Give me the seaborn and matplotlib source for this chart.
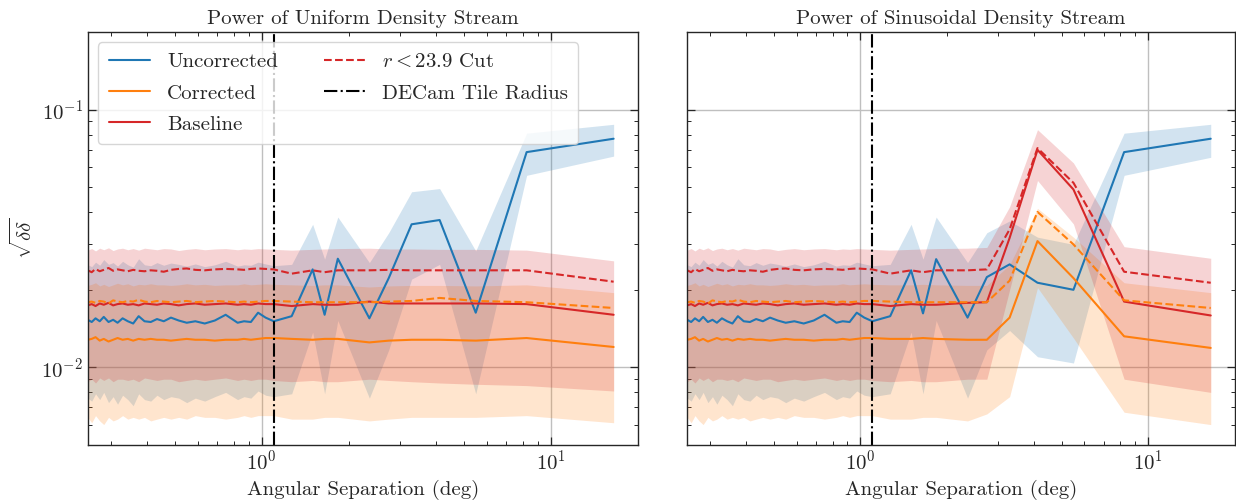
import numpy as np
import matplotlib
matplotlib.use("Agg")
import matplotlib.pyplot as plt
import seaborn as sns

# angular separations (deg): dense small-scale part + sparse large-scale part
x_dense = [0.250, 0.258, 0.266, 0.275, 0.284, 0.295, 0.306, 0.317, 0.330, 0.344,
           0.359, 0.375, 0.393, 0.413, 0.434, 0.458, 0.485, 0.516, 0.550, 0.589,
           0.635, 0.688, 0.750, 0.825, 0.868, 0.917, 0.971, 1.031]
x_tail = [1.100, 1.269, 1.500, 1.650, 1.833, 2.357, 2.750, 3.300, 4.125, 5.500, 8.250, 16.50]

# small-scale values (same for both streams)
unc_dense = [0.0153, 0.0150, 0.0155, 0.0151, 0.0157, 0.0150, 0.0153, 0.0149, 0.0155, 0.0151,
             0.0148, 0.0158, 0.0151, 0.0150, 0.0154, 0.0151, 0.0156, 0.0152, 0.0149, 0.0151,
             0.0148, 0.0152, 0.0160, 0.0149, 0.0151, 0.0150, 0.0163, 0.0156]
unc_hi_dense = [0.0250, 0.0246, 0.0256, 0.0249, 0.0262, 0.0251, 0.0255, 0.0247, 0.0258, 0.0250,
                0.0245, 0.0264, 0.0250, 0.0248, 0.0255, 0.0249, 0.0254, 0.0251, 0.0247, 0.0252,
                0.0246, 0.0250, 0.0258, 0.0247, 0.0250, 0.0249, 0.0256, 0.0252]
unc_lo_dense = [0.0076, 0.0074, 0.0079, 0.0075, 0.0080, 0.0073, 0.0077, 0.0072, 0.0078, 0.0075,
                0.0071, 0.0079, 0.0075, 0.0074, 0.0078, 0.0075, 0.0077, 0.0076, 0.0073, 0.0076,
                0.0074, 0.0077, 0.0080, 0.0075, 0.0077, 0.0076, 0.0081, 0.0078]
base_dense = [0.0174, 0.0176, 0.0173, 0.0177, 0.0175, 0.0178, 0.0174, 0.0176, 0.0177, 0.0175,
              0.0176, 0.0174, 0.0177, 0.0176, 0.0175, 0.0177, 0.0176, 0.0174, 0.0176, 0.0177,
              0.0175, 0.0176, 0.0177, 0.0175, 0.0176, 0.0175, 0.0177, 0.0176]
base_hi_dense = [0.0285, 0.0289, 0.0283, 0.0290, 0.0286, 0.0291, 0.0284, 0.0288, 0.0290, 0.0286,
                 0.0289, 0.0285, 0.0290, 0.0288, 0.0286, 0.0289, 0.0288, 0.0284, 0.0287, 0.0289,
                 0.0286, 0.0288, 0.0289, 0.0286, 0.0288, 0.0287, 0.0289, 0.0288]
base_lo_dense = [0.0088, 0.0090, 0.0087, 0.0091, 0.0089, 0.0091, 0.0088, 0.0090, 0.0090, 0.0089,
                 0.0090, 0.0088, 0.0091, 0.0090, 0.0089, 0.0090, 0.0090, 0.0088, 0.0089, 0.0090,
                 0.0089, 0.0090, 0.0091, 0.0089, 0.0090, 0.0089, 0.0090, 0.0090]
base_cut_dense = [0.0238, 0.0234, 0.0241, 0.0236, 0.0239, 0.0243, 0.0237, 0.0240, 0.0238, 0.0236,
                  0.0239, 0.0237, 0.0236, 0.0238, 0.0237, 0.0235, 0.0239, 0.0241, 0.0242, 0.0239,
                  0.0238, 0.0240, 0.0241, 0.0240, 0.0239, 0.0241, 0.0242, 0.0241]
corr_dense = [0.0128, 0.0129, 0.0131, 0.0127, 0.0129, 0.0126, 0.0128, 0.0130, 0.0128, 0.0129,
              0.0127, 0.0129, 0.0128, 0.0129, 0.0128, 0.0128, 0.0127, 0.0128, 0.0129, 0.0128,
              0.0128, 0.0127, 0.0128, 0.0128, 0.0129, 0.0128, 0.0129, 0.0130]
corr_hi_dense = [0.0208, 0.0210, 0.0213, 0.0207, 0.0210, 0.0206, 0.0209, 0.0212, 0.0209, 0.0211,
                 0.0207, 0.0210, 0.0209, 0.0211, 0.0209, 0.0209, 0.0208, 0.0209, 0.0211, 0.0209,
                 0.0210, 0.0208, 0.0209, 0.0209, 0.0211, 0.0209, 0.0210, 0.0211]
corr_lo_dense = [0.0064, 0.0061, 0.0065, 0.0062, 0.0060, 0.0064, 0.0062, 0.0063, 0.0065, 0.0063,
                 0.0064, 0.0063, 0.0064, 0.0062, 0.0063, 0.0064, 0.0063, 0.0064, 0.0063, 0.0065,
                 0.0064, 0.0064, 0.0063, 0.0064, 0.0065, 0.0064, 0.0065, 0.0065]
corr_cut_dense = [0.0179, 0.0180, 0.0178, 0.0181, 0.0180, 0.0177, 0.0182, 0.0180, 0.0179, 0.0181,
                  0.0180, 0.0183, 0.0180, 0.0179, 0.0181, 0.0180, 0.0179, 0.0180, 0.0181, 0.0179,
                  0.0180, 0.0181, 0.0180, 0.0179, 0.0180, 0.0179, 0.0180, 0.0181]

# large-scale values, uniform stream
uni_unc = [0.0151, 0.0158, 0.0240, 0.0160, 0.0264, 0.0155, 0.0222, 0.0359, 0.0373, 0.0163, 0.0684, 0.0771]
uni_unc_hi = [0.0248, 0.0251, 0.0359, 0.0263, 0.0383, 0.0255, 0.0333, 0.0480, 0.0494, 0.0283, 0.0810, 0.0877]
uni_unc_lo = [0.0077, 0.0079, 0.0137, 0.0079, 0.0152, 0.0076, 0.0117, 0.0220, 0.0251, 0.0079, 0.0556, 0.0660]
uni_base = [0.0176, 0.0173, 0.0176, 0.0175, 0.0175, 0.0180, 0.0177, 0.0177, 0.0177, 0.0177, 0.0176, 0.0160]
uni_base_hi = [0.0287, 0.0285, 0.0287, 0.0288, 0.0289, 0.0290, 0.0288, 0.0288, 0.0287, 0.0287, 0.0285, 0.0259]
uni_base_lo = [0.0089, 0.0088, 0.0089, 0.0088, 0.0088, 0.0090, 0.0089, 0.0088, 0.0087, 0.0086, 0.0085, 0.0081]
uni_base_cut = [0.0240, 0.0231, 0.0238, 0.0234, 0.0238, 0.0238, 0.0239, 0.0238, 0.0238, 0.0238, 0.0238, 0.0215]
uni_corr = [0.0130, 0.0129, 0.0128, 0.0129, 0.0129, 0.0125, 0.0127, 0.0128, 0.0128, 0.0127, 0.0130, 0.0120]
uni_corr_hi = [0.0210, 0.0209, 0.0208, 0.0209, 0.0209, 0.0205, 0.0207, 0.0208, 0.0208, 0.0207, 0.0209, 0.0195]
uni_corr_lo = [0.0065, 0.0063, 0.0063, 0.0064, 0.0064, 0.0062, 0.0063, 0.0064, 0.0064, 0.0064, 0.0065, 0.0061]
uni_corr_cut = [0.0181, 0.0180, 0.0179, 0.0179, 0.0179, 0.0179, 0.0180, 0.0181, 0.0186, 0.0181, 0.0179, 0.0170]

# large-scale values, sinusoidal stream
sin_unc = [0.0151, 0.0158, 0.0238, 0.0162, 0.0263, 0.0156, 0.0224, 0.0251, 0.0213, 0.0200, 0.0684, 0.0771]
sin_unc_hi = [0.0248, 0.0251, 0.0359, 0.0263, 0.0383, 0.0255, 0.0333, 0.0370, 0.0320, 0.0300, 0.0810, 0.0877]
sin_unc_lo = [0.0077, 0.0079, 0.0137, 0.0079, 0.0152, 0.0076, 0.0117, 0.0139, 0.0110, 0.0104, 0.0556, 0.0653]
sin_base = [0.0176, 0.0173, 0.0176, 0.0175, 0.0175, 0.0178, 0.0179, 0.0318, 0.0698, 0.0490, 0.0180, 0.0159]
sin_base_hi = [0.0287, 0.0285, 0.0287, 0.0288, 0.0289, 0.0290, 0.0292, 0.0420, 0.0836, 0.0621, 0.0294, 0.0265]
sin_base_lo = [0.0089, 0.0088, 0.0089, 0.0088, 0.0088, 0.0090, 0.0090, 0.0200, 0.0531, 0.0360, 0.0090, 0.0080]
sin_base_cut = [0.0240, 0.0231, 0.0238, 0.0234, 0.0238, 0.0238, 0.0240, 0.0343, 0.0709, 0.0520, 0.0235, 0.0213]
sin_corr = [0.0130, 0.0129, 0.0129, 0.0130, 0.0129, 0.0128, 0.0128, 0.0156, 0.0309, 0.0222, 0.0132, 0.0119]
sin_corr_hi = [0.0210, 0.0209, 0.0209, 0.0210, 0.0209, 0.0208, 0.0208, 0.0250, 0.0414, 0.0320, 0.0213, 0.0195]
sin_corr_lo = [0.0065, 0.0063, 0.0063, 0.0064, 0.0064, 0.0062, 0.0066, 0.0077, 0.0204, 0.0130, 0.0067, 0.0060]
sin_corr_cut = [0.0181, 0.0180, 0.0179, 0.0179, 0.0179, 0.0179, 0.0179, 0.0217, 0.0401, 0.0300, 0.0182, 0.0170]

decam_radius = 1.1
titles = ["Power of Uniform Density Stream", "Power of Sinusoidal Density Stream"]

sns.set_theme(style="ticks")
plt.rcParams.update({
    "font.family": "serif",
    "font.serif": ["cmr10"],
    "mathtext.fontset": "cm",
    "axes.formatter.use_mathtext": True,
    "axes.unicode_minus": False,
    "axes.linewidth": 1.0,
    "xtick.direction": "in",
    "ytick.direction": "in",
    "xtick.top": True,
    "ytick.right": True,
    "xtick.major.width": 0.9,
    "ytick.major.width": 0.9,
    "xtick.minor.width": 0.7,
    "ytick.minor.width": 0.7,
    "font.size": 15,
})

x = np.array(x_dense + x_tail)
panels = [
    dict(unc=unc_dense + uni_unc, unc_hi=unc_hi_dense + uni_unc_hi, unc_lo=unc_lo_dense + uni_unc_lo,
         base=base_dense + uni_base, base_hi=base_hi_dense + uni_base_hi, base_lo=base_lo_dense + uni_base_lo,
         base_cut=base_cut_dense + uni_base_cut,
         corr=corr_dense + uni_corr, corr_hi=corr_hi_dense + uni_corr_hi, corr_lo=corr_lo_dense + uni_corr_lo,
         corr_cut=corr_cut_dense + uni_corr_cut),
    dict(unc=unc_dense + sin_unc, unc_hi=unc_hi_dense + sin_unc_hi, unc_lo=unc_lo_dense + sin_unc_lo,
         base=base_dense + sin_base, base_hi=base_hi_dense + sin_base_hi, base_lo=base_lo_dense + sin_base_lo,
         base_cut=base_cut_dense + sin_base_cut,
         corr=corr_dense + sin_corr, corr_hi=corr_hi_dense + sin_corr_hi, corr_lo=corr_lo_dense + sin_corr_lo,
         corr_cut=corr_cut_dense + sin_corr_cut),
]

blue, orange, red = "#1f77b4", "#ff7f0e", "#d62728"

fig = plt.figure(figsize=(12.36, 5.0), dpi=100)
ax1 = fig.add_axes([0.071, 0.11, 0.445, 0.826])
ax2 = fig.add_axes([0.556, 0.11, 0.443, 0.826], sharey=ax1)

for ax, d, title in zip([ax1, ax2], panels, titles):
    ax.fill_between(x, d["unc_lo"], d["unc_hi"], color=blue, alpha=0.2, lw=0)
    ax.fill_between(x, d["corr_lo"], d["corr_hi"], color=orange, alpha=0.2, lw=0)
    ax.fill_between(x, d["base_lo"], d["base_hi"], color=red, alpha=0.2, lw=0)

    sns.lineplot(x=x, y=d["unc"], ax=ax, color=blue, lw=1.5, label="Uncorrected")
    sns.lineplot(x=x, y=d["corr"], ax=ax, color=orange, lw=1.5, label="Corrected")
    sns.lineplot(x=x, y=d["base"], ax=ax, color=red, lw=1.5, label="Baseline")
    sns.lineplot(x=x, y=d["corr_cut"], ax=ax, color=orange, lw=1.5, linestyle="--")
    sns.lineplot(x=x, y=d["base_cut"], ax=ax, color=red, lw=1.5, linestyle="--",
                 label=r"$r<23.9$ Cut")
    ax.axvline(decam_radius, color="black", lw=1.5, linestyle="-.", label="DECam Tile Radius")

    ax.set_xscale("log")
    ax.set_yscale("log")
    ax.set_xlim(0.25, 20)
    ax.set_ylim(0.005, 0.2)
    ax.grid(True, which="major", color="0.75", lw=1)
    ax.tick_params(which="major", length=6, labelsize=15)
    ax.tick_params(which="minor", length=3)
    ax.set_title(title, fontsize=15)
    ax.set_xlabel("Angular Separation (deg)", fontsize=15)
    ax.set_ylabel("")

ax1.set_ylabel(r"$\sqrt{\delta\delta}$", fontsize=15)
ax2.tick_params(labelleft=False)
ax2.get_legend().remove()

h, l = ax1.get_legend_handles_labels()
ax1.legend(h, l, ncol=2, loc="upper left", fontsize=15, framealpha=0.8,
           columnspacing=2.2, handlelength=2.0, labelspacing=0.6, borderpad=0.5)

fig.savefig("out.png", dpi=100)
